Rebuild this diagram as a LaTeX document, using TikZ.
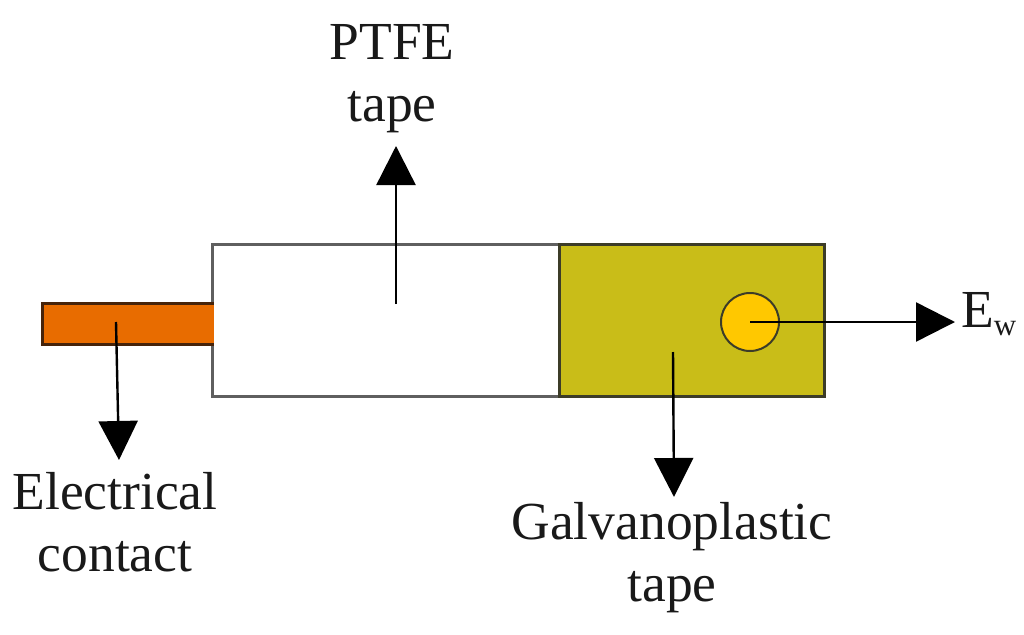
\documentclass[tikz,border=0pt]{standalone}
\usepackage{fontspec}
\setmainfont{Liberation Serif}
\usepackage{xcolor}
\usetikzlibrary{arrows.meta}
\definecolor{contactorange}{RGB}{232,108,0}
\definecolor{contactedge}{RGB}{70,35,10}
\definecolor{galvanoolive}{RGB}{201,189,24}
\definecolor{galvanoedge}{RGB}{60,60,40}
\definecolor{electrodeyellow}{RGB}{255,200,0}
\definecolor{edgegrey}{RGB}{95,95,95}
\tikzset{
  lbl/.style={font=\fontsize{53.5pt}{62pt}\selectfont,align=center,inner sep=0pt,text=black!90},
  tapebox/.style={line width=3pt,inner sep=0pt},
  arr/.style={-{Triangle[length=39pt,width=39pt]},line width=2.4pt,black}
}
\begin{document}
\begin{tikzpicture}[x=1pt,y=-1pt]
\useasboundingbox (0,0) rectangle (1024,634);
\node[tapebox,draw=edgegrey,fill=white,minimum width=347pt,minimum height=152pt] (ptfe) at (385.5,320.5) {};
\node[tapebox,draw=galvanoedge,fill=galvanoolive,minimum width=265pt,minimum height=152pt] (galvano) at (691.5,320.5) {};
\node[fill=contactorange,minimum width=171pt,minimum height=41pt,inner sep=0pt] (contact) at (128,324) {};
\draw[tapebox,draw=contactedge] (contact.north east)--(contact.north west)--(contact.south west)--(contact.south east);
\node[draw=galvanoedge,line width=2pt,fill=electrodeyellow,circle,minimum size=58pt,inner sep=0pt] (we) at (750,322) {};
\coordinate (ptfestart) at (396,304);
\coordinate (contactstart) at (116,322);
\coordinate (galvanostart) at (673,352);
\node[lbl] (ptfelabel) at (392,79) {PTFE\\tape};
\node[lbl] (contactlabel) at (115,522) {Electrical\\contact};
\node[lbl] (galvanolabel) at (672,558) {Galvanoplastic\\tape};
\node[lbl,anchor=base west] (ewlabel) at (961,327) {E\raisebox{-8pt}{\fontsize{31pt}{31pt}\selectfont w}};
\coordinate (ptfeend) at (396,146);
\coordinate (contactend) at (119,460);
\coordinate (galvanoend) at (674,497);
\coordinate (weend) at (955,322);
\draw[arr] (ptfestart)--(ptfeend);
\draw[arr] (contactstart)--(contactend);
\draw[arr] (galvanostart)--(galvanoend);
\draw[arr] (we.center)--(weend);
\end{tikzpicture}
\end{document}
